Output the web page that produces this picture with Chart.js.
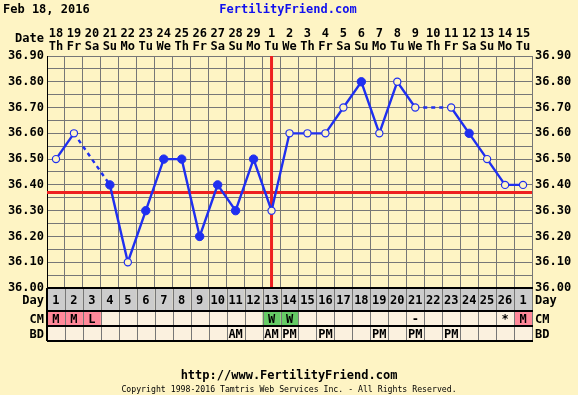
<!DOCTYPE html>
<html><head><meta charset="utf-8">
<script src="https://cdn.jsdelivr.net/npm/chart.js@4"></script>
<style>html,body{margin:0;padding:0;background:#FEF4C4;} canvas{display:block}</style>
</head><body>
<canvas id="c" width="578" height="395"></canvas>
<script>
const cycleDays = ['1','2','3','4','5','6','7','8','9','10','11','12','13','14','15','16','17','18','19','20','21','22','23','24','25','26','1'];
const dateNums = ['18','19','20','21','22','23','24','25','26','27','28','29','1','2','3','4','5','6','7','8','9','10','11','12','13','14','15'];
const weekdays = ['Th','Fr','Sa','Su','Mo','Tu','We','Th','Fr','Sa','Su','Mo','Tu','We','Th','Fr','Sa','Su','Mo','Tu','We','Th','Fr','Sa','Su','Mo','Tu'];
const temps = [36.50,36.60,null,36.40,36.10,36.30,36.50,36.50,36.20,36.40,36.30,36.50,36.30,36.60,36.60,36.60,36.70,36.80,36.60,36.80,36.70,null,36.70,36.60,36.50,36.40,36.40];
const filled = [0,0,0,1,0,1,1,1,1,1,1,1,0,0,0,0,0,1,0,0,0,0,0,1,0,0,0];
const cm = ['M','M','L','','','','','','','','','','W','W','','','','','','','-','','','','','*','M'];
const bd = ['','','','','','','','','','','AM','','AM','PM','','PM','','','PM','','PM','','PM','','','',''];
const coverline = 36.37;
const ovulationIndex = 12;
const chartDate = 'Feb 18, 2016';

const BG = '#FEF4C4', BLUE = '#1f2ff0', RED = '#ee2020', GRID = '#777777';
const FONT = 'DejaVu Sans Mono';
const cmColor = v => (v === 'M' || v === 'L') ? '#FF8899' : (v === 'W' ? '#66CC66' : '#FBF1DF');

const fmt = v => { const r = Math.round(v * 100); return r % 10 === 0 ? (r / 100).toFixed(2) : ''; };

const decor = {
  id: 'decor',
  beforeDraw(chart) {
    const c = chart.ctx;
    c.save(); c.fillStyle = BG; c.fillRect(0, 0, chart.width, chart.height); c.restore();
  },
  beforeDatasetsDraw(chart) {
    const c = chart.ctx, a = chart.chartArea, x = chart.scales.x, y = chart.scales.y;
    c.save();
    c.strokeStyle = RED; c.lineWidth = 3;
    const cy = y.getPixelForValue(coverline);
    c.beginPath(); c.moveTo(a.left, cy); c.lineTo(a.right, cy); c.stroke();
    const ox = x.getPixelForValue(ovulationIndex);
    c.beginPath(); c.moveTo(ox, a.top); c.lineTo(ox, a.bottom); c.stroke();
    c.restore();
  },
  afterDraw(chart) {
    const c = chart.ctx, a = chart.chartArea, x = chart.scales.x;
    const n = cycleDays.length, w = (a.right - a.left) / n;
    const rows = [{label:'Day', h:23, vals:cycleDays}, {label:'CM', h:15, vals:cm}, {label:'BD', h:15, vals:bd}];
    c.save();
    let top = a.bottom;
    c.font = 'bold 12px "' + FONT + '"';
    c.textBaseline = 'middle';
    rows.forEach((r, ri) => {
      for (let i = 0; i < n; i++) {
        const cx = x.getPixelForValue(i);
        c.fillStyle = ri === 0 ? '#CCCCCC' : (ri === 1 ? cmColor(r.vals[i]) : '#FBF1DF');
        c.fillRect(cx - w / 2, top, w, r.h);
        if (r.vals[i]) { c.fillStyle = '#000'; c.textAlign = 'center'; c.fillText(r.vals[i], cx, top + r.h / 2 + 1); }
      }
      c.fillStyle = '#000';
      c.textAlign = 'right'; c.fillText(r.label, a.left - 3, top + r.h / 2 + 1);
      c.textAlign = 'left'; c.fillText(r.label, a.right + 3, top + r.h / 2 + 1);
      top += r.h;
    });
    c.strokeStyle = GRID; c.lineWidth = 1;
    for (let i = 0; i <= n; i++) {
      const px = Math.round(a.left + i * w) + 0.5;
      c.beginPath(); c.moveTo(px, a.bottom); c.lineTo(px, top); c.stroke();
    }
    c.strokeStyle = '#000'; c.lineWidth = 2;
    let yy = a.bottom;
    [0].concat(rows.map(r => r.h)).forEach(h => {
      yy += h;
      c.beginPath(); c.moveTo(a.left, yy); c.lineTo(a.right + 1, yy); c.stroke();
    });
    c.beginPath(); c.moveTo(a.left, a.bottom); c.lineTo(a.left, top); c.stroke();

    c.textBaseline = 'middle';
    c.fillStyle = '#000'; c.textAlign = 'left';
    c.fillText(chartDate, 3, 10);
    c.fillStyle = '#1010ee'; c.textAlign = 'center';
    c.fillText('FertilityFriend.com', 288, 10);
    c.fillStyle = '#000'; c.textAlign = 'right';
    c.fillText('Date', a.left - 3, 39);
    c.textAlign = 'center';
    c.fillText('http://www.FertilityFriend.com', 289, 376);
    c.font = '8.2px "' + FONT + '"';
    c.fillText('Copyright 1998-2016 Tamtris Web Services Inc. - All Rights Reserved.', 289, 390);
    c.restore();
  }
};

const yCommon = {
  type: 'linear', min: 36, max: 36.9,
  ticks: { stepSize: 0.05, autoSkip: false, maxTicksLimit: 19, callback: fmt, color: '#000', padding: 3,
           font: { family: FONT, weight: 'bold', size: 12 } },
};

new Chart(document.getElementById('c'), {
  type: 'line',
  data: {
    labels: cycleDays.map((d, i) => i),
    datasets: [{
      data: temps,
      borderColor: BLUE, borderWidth: 2.4,
      spanGaps: true,
      segment: { borderDash: ctx => (ctx.p0.skip || ctx.p1.skip) ? [4, 4] : undefined },
      pointRadius: filled.map(f => f ? 4.2 : 3.6),
      pointBorderWidth: filled.map(f => f ? 1 : 1.2),
      pointBorderColor: BLUE,
      pointBackgroundColor: filled.map(f => f ? BLUE : BG),
      tension: 0
    }]
  },
  options: {
    responsive: false, animation: false, devicePixelRatio: 1,
    layout: { padding: { top: 0, bottom: 107, left: 0, right: 0 } },
    plugins: { legend: { display: false }, tooltip: { enabled: false } },
    scales: {
      x: {
        type: 'category', position: 'bottom', offset: true,
        grid: { color: GRID, lineWidth: 1, offset: true, drawTicks: false },
        border: { color: '#000', width: 1 },
        ticks: { display: false },
        afterFit: s => { s.height = 0; }
      },
      x2: {
        type: 'category', position: 'top', offset: true,
        labels: dateNums.map((d, i) => [d, weekdays[i]]),
        grid: { display: false, drawTicks: false },
        border: { display: false },
        ticks: { color: '#000', padding: 3, autoSkip: false, maxRotation: 0,
                 font: { family: FONT, weight: 'bold', size: 12, lineHeight: 1.05 } },
        afterFit: s => { s.height = 56; }
      },
      y: Object.assign({}, yCommon, {
        position: 'left',
        grid: { color: GRID, lineWidth: 1, drawTicks: false },
        border: { color: '#000', width: 1 },
        afterFit: s => { s.width = 47; }
      }),
      y2: Object.assign({}, yCommon, {
        position: 'right',
        grid: { display: false, drawTicks: false },
        border: { display: false },
        afterFit: s => { s.width = 46; }
      })
    }
  },
  plugins: [decor]
});
</script>
</body></html>
